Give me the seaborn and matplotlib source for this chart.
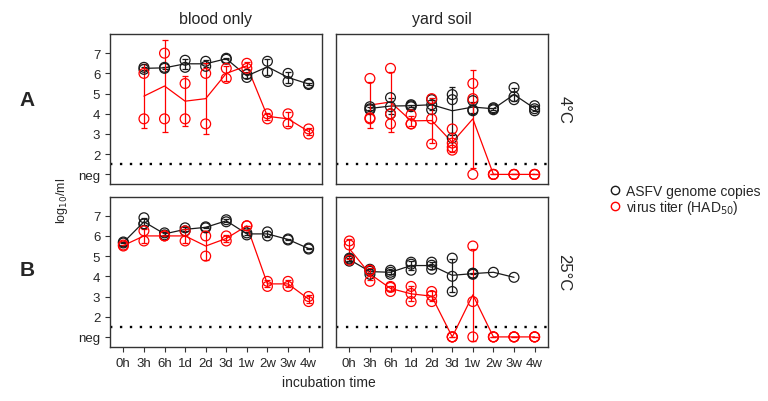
import numpy as np
import pandas as pd
import matplotlib
matplotlib.use("Agg")
import matplotlib.pyplot as plt
from matplotlib.lines import Line2D
import seaborn as sns

# incubation time points (equally spaced categories)
times = ["0h", "3h", "6h", "1d", "2d", "3d", "1w", "2w", "3w", "4w"]
neg = 1.0  # negative results are plotted on the "neg" line

# replicate values per time point, log10/ml
blood_4c_genome = [[], [6.3, 6.2], [6.3, 6.25], [6.65, 6.3], [6.6, 6.35], [6.75, 6.7],
                   [5.95, 5.8], [6.6, 6.05], [6.0, 5.6], [5.5, 5.45]]
blood_4c_titer = [[], [6.0, 3.75], [7.0, 3.75], [5.5, 3.75], [6.0, 3.5], [6.25, 5.75],
                  [6.5, 6.25], [4.0, 3.75], [4.0, 3.5], [3.25, 3.0]]
soil_4c_genome = [[], [4.35, 4.25, 4.2], [4.8, 4.35, 4.0], [4.45, 4.4, 4.35], [4.7, 4.45, 4.2],
                  [4.95, 4.7, 2.8], [4.65, 4.2, 4.15], [4.3, 4.25, 4.2], [5.3, 4.85, 4.7],
                  [4.4, 4.25, 4.15]]
soil_4c_titer = [[], [5.75, 3.8, 3.75], [6.25, 4.0, 3.5], [3.95, 3.5, 3.5], [4.75, 3.75, 2.5],
                 [3.25, 2.55, 2.35, 2.2], [5.5, 4.75, neg], [neg, neg, neg], [neg, neg, neg],
                 [neg, neg, neg]]
blood_25c_genome = [[5.7, 5.65], [6.9, 6.6, 6.6], [6.15, 6.05], [6.4, 6.25], [6.45, 6.4],
                    [6.8, 6.7], [6.15, 6.05], [6.2, 6.0], [5.85, 5.8], [5.4, 5.35]]
blood_25c_titer = [[5.55, 5.5], [6.25, 5.75], [6.0, 6.0], [6.25, 5.75], [6.0, 5.0],
                   [6.0, 5.75], [6.5, 6.5], [3.75, 3.5], [3.75, 3.5], [3.0, 2.75]]
soil_25c_genome = [[4.9, 4.85, 4.75], [4.35, 4.25, 4.1], [4.3, 4.2, 4.1], [4.7, 4.6, 4.3],
                   [4.7, 4.55, 4.35], [4.9, 4.0, 3.25], [4.15, 4.15, 4.1], [4.2], [3.95], []]
soil_25c_titer = [[5.75, 5.55, 4.8], [4.3, 4.3, 3.75], [3.5, 3.45, 3.25], [3.5, 3.15, 2.75],
                  [3.25, 3.05, 2.75], [neg, neg, neg], [5.5, 2.75, neg], [neg, neg, neg],
                  [neg, neg, neg], [neg, neg, neg]]

# long form table
rows = []
for temp, mat, series, reps in [
        ("4°C", "blood only", "genome", blood_4c_genome),
        ("4°C", "blood only", "titer", blood_4c_titer),
        ("4°C", "yard soil", "genome", soil_4c_genome),
        ("4°C", "yard soil", "titer", soil_4c_titer),
        ("25°C", "blood only", "genome", blood_25c_genome),
        ("25°C", "blood only", "titer", blood_25c_titer),
        ("25°C", "yard soil", "genome", soil_25c_genome),
        ("25°C", "yard soil", "titer", soil_25c_titer)]:
    for i, vals in enumerate(reps):
        for v in vals:
            rows.append({"temp": temp, "matrix": mat, "series": series, "t": i, "v": v})
df = pd.DataFrame(rows)

sns.set_style("ticks")
plt.rcParams["font.family"] = ["Liberation Sans", "DejaVu Sans"]
plt.rcParams["axes.edgecolor"] = "#333333"

BLACK = "#1a1a1a"
RED = "#ff0000"

fig, axes = plt.subplots(2, 2, figsize=(7.68, 4.02), dpi=100)
fig.subplots_adjust(left=0.1432, right=0.7135, bottom=0.1343, top=0.9129,
                    wspace=0.066, hspace=0.08)

temps = ["4°C", "25°C"]
mats = ["blood only", "yard soil"]
for r, temp in enumerate(temps):
    for c, mat in enumerate(mats):
        ax = axes[r, c]
        ax.axhline(1.5, color="black", ls=(0, (1, 3.2)), lw=1.7, zorder=1)
        for series, color in [("genome", BLACK), ("titer", RED)]:
            sub = df[(df.temp == temp) & (df.matrix == mat) & (df.series == series)]
            sns.lineplot(data=sub, x="t", y="v", ax=ax, color=color, errorbar="sd",
                         err_style="bars", linewidth=0.9,
                         err_kws={"capsize": 2, "elinewidth": 0.9, "capthick": 0.9})
            sns.scatterplot(data=sub, x="t", y="v", ax=ax, marker="o", s=50,
                            facecolor="none", edgecolor=color, linewidth=0.9, zorder=3)
        ax.set_xlim(-0.65, 9.65)
        ax.set_ylim(0.5, 7.95)
        ax.set_xlabel("")
        ax.set_ylabel("")
        for s in ax.spines.values():
            s.set_visible(True)
            s.set_linewidth(1.0)
        ax.tick_params(labelsize=9.5, length=3.5, width=0.8, color="#333333")
        ax.set_xticks(range(len(times)))
        ax.set_yticks([1, 2, 3, 4, 5, 6, 7])
        if r == 1:
            ax.set_xticklabels(times)
        else:
            ax.tick_params(axis="x", bottom=False, labelbottom=False)
        if c == 0:
            ax.set_yticklabels(["neg", "2", "3", "4", "5", "6", "7"])
        else:
            ax.tick_params(axis="y", left=False, labelleft=False)
        if r == 0:
            ax.set_title(mat, fontsize=11.5, pad=8)
        if c == 1:
            ax.text(1.075, 0.5, temp, transform=ax.transAxes, rotation=270,
                    ha="center", va="center", fontsize=12)

# panel letters and shared labels
fig.text(0.035, 1 - 100 / 402, "A", fontsize=15, fontweight="bold", ha="center", va="center")
fig.text(0.035, 1 - 270 / 402, "B", fontsize=15, fontweight="bold", ha="center", va="center")
fig.text(0.081, 0.5, "log$_{10}$/ml", rotation=90, ha="center", va="center", fontsize=9)
fig.text(0.428, 1 - 383 / 402, "incubation time", ha="center", va="center", fontsize=10)

handles = [Line2D([], [], marker="o", ls="", mfc="none", mec=BLACK, ms=6, mew=1.0),
           Line2D([], [], marker="o", ls="", mfc="none", mec=RED, ms=6, mew=1.0)]
fig.legend(handles, ["ASFV genome copies", "virus titer (HAD$_{50}$)"],
           loc="center left", bbox_to_anchor=(0.785, 0.5), frameon=False,
           fontsize=10, handlelength=0.8, handletextpad=0.4, labelspacing=0.0,
           borderpad=0)

fig.savefig("out.png", dpi=100)
